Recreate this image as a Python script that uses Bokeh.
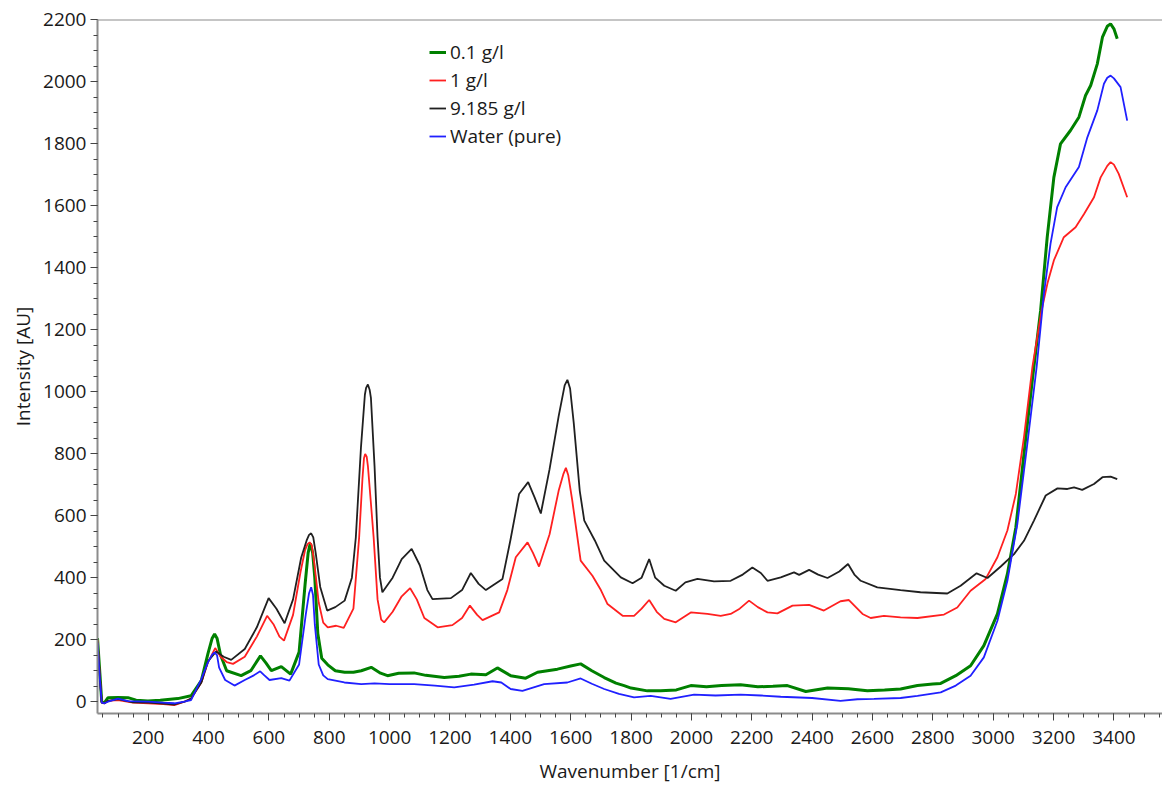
from bokeh.plotting import figure
from bokeh.models import Range1d, SingleIntervalTicker, Span, Legend, LegendItem
from bokeh.embed import file_html
from bokeh.resources import INLINE

# ---- data ----
green_x = [32, 40, 46, 55, 67, 100, 133, 160, 199, 240, 298, 342, 376, 398, 412, 420, 428, 440, 460, 508, 540, 572,
           590, 608, 641, 672, 700, 720, 730, 737, 745, 752, 762, 775, 795, 820, 851, 880, 906, 939, 970, 993, 1030,
           1081, 1120, 1181, 1230, 1269, 1319, 1357, 1401, 1451, 1490, 1556, 1600, 1633, 1670, 1711, 1750, 1777,
           1800, 1854, 1898, 1950, 1998, 2050, 2100, 2163, 2220, 2270, 2318, 2379, 2451, 2520, 2583, 2640, 2693,
           2749, 2800, 2826, 2876, 2925, 2969, 3014, 3047, 3075, 3102, 3130, 3157, 3179, 3201, 3223, 3256, 3284,
           3306, 3323, 3345, 3362, 3378, 3389, 3400, 3411]
green_y = [205, 90, 0, -3, 13, 14, 13, 5, 2, 5, 10, 19, 68, 155, 205, 218, 205, 150, 100, 84, 100, 148,
           125, 100, 113, 89, 160, 380, 480, 511, 480, 400, 220, 140, 119, 100, 95, 95, 100, 111, 92, 84, 92,
           93, 85, 78, 82, 89, 87, 109, 84, 76, 95, 105, 115, 122, 100, 78, 60, 52,
           44, 35, 35, 38, 52, 48, 52, 55, 48, 50, 52, 33, 44, 42, 35, 38, 41,
           52, 57, 59, 84, 116, 181, 283, 412, 562, 799, 1040, 1261, 1498, 1691, 1799, 1842, 1885,
           1955, 1987, 2057, 2143, 2178, 2186, 2170, 2138]

red_x = [32, 40, 46, 55, 67, 100, 150, 200, 250, 287, 320, 342, 376, 398, 422, 440, 460, 481, 520, 560, 594, 615,
         635, 650, 680, 705, 720, 728, 735, 742, 750, 765, 780, 795, 823, 848, 880, 899, 910, 915, 919, 924, 928,
         938, 947, 960, 972, 982, 1010, 1040, 1068, 1090, 1115, 1159, 1208, 1240, 1266, 1290, 1308, 1363, 1390,
         1418, 1457, 1475, 1495, 1530, 1560, 1576, 1584, 1592, 1605, 1633, 1672, 1700, 1722, 1772, 1810, 1835,
         1860, 1885, 1910, 1948, 1998, 2053, 2097, 2130, 2160, 2191, 2220, 2252, 2285, 2335, 2390, 2439, 2494,
         2522, 2567, 2594, 2638, 2693, 2749, 2837, 2881, 2925, 2975, 3014, 3047, 3075, 3102, 3130, 3160, 3180,
         3201, 3234, 3273, 3301, 3334, 3356, 3378, 3389, 3400, 3416, 3444]
red_y = [200, 80, -3, -5, 3, 5, -3, -5, -8, -11, 0, 10, 62, 127, 173, 145, 128, 122, 145, 210, 277, 250,
         210, 197, 280, 420, 490, 508, 514, 505, 450, 320, 255, 240, 245, 238, 300, 530, 720, 785, 799, 790, 760,
         640, 530, 330, 265, 256, 290, 340, 366, 330, 270, 240, 247, 270, 310, 280, 263, 288, 360,
         466, 514, 480, 436, 540, 680, 735, 754, 730, 650, 455, 406, 360, 315, 277, 277, 300,
         328, 290, 267, 256, 288, 283, 277, 283, 300, 326, 305, 288, 285, 310, 312, 294, 324,
         328, 283, 270, 277, 272, 270, 281, 304, 358, 396, 466, 552, 670, 853, 1080, 1260, 1350,
         1423, 1498, 1530, 1573, 1627, 1691, 1728, 1740, 1732, 1702, 1627]

black_x = [32, 40, 46, 55, 67, 100, 150, 200, 250, 287, 320, 342, 376, 398, 425, 450, 475, 520, 560, 599, 625, 652,
           680, 707, 725, 733, 740, 747, 755, 770, 793, 820, 851, 875, 888, 905, 918, 922, 928, 934, 938, 950, 960,
           968, 976, 1010, 1040, 1073, 1100, 1125, 1142, 1203, 1240, 1269, 1295, 1319, 1374, 1400, 1429, 1459,
           1480, 1501, 1530, 1560, 1580, 1589, 1598, 1610, 1630, 1645, 1680, 1711, 1766, 1805, 1835, 1860, 1880,
           1910, 1948, 1980, 2020, 2075, 2130, 2170, 2202, 2230, 2252, 2296, 2340, 2357, 2390, 2420, 2451, 2490,
           2519, 2540, 2561, 2616, 2693, 2759, 2848, 2892, 2945, 2981, 3025, 3069, 3102, 3135, 3174, 3213, 3246,
           3268, 3295, 3334, 3362, 3389, 3411]
black_y = [195, 80, -3, -5, 3, 8, -2, -3, -6, -9, 0, 10, 62, 130, 162, 145, 135, 170, 240, 334, 300, 253,
           330, 465, 520, 538, 543, 530, 480, 370, 294, 305, 326, 400, 530, 820, 990, 1012, 1023, 1005, 980, 760,
           530, 400, 353, 400, 460, 493, 440, 360, 331, 334, 360, 415, 380, 360, 396, 520, 670, 708,
           660, 607, 750, 920, 1020, 1038, 1010, 900, 680, 584, 520, 455, 401, 382, 400, 460, 400,
           374, 358, 385, 396, 388, 390, 410, 433, 415, 390, 401, 417, 409, 425, 410, 399, 420,
           444, 410, 390, 369, 360, 353, 349, 374, 414, 399, 436, 476, 519, 584, 665, 688, 686,
           691, 683, 702, 724, 726, 718]

blue_x = [32, 40, 46, 55, 67, 100, 133, 200, 250, 287, 320, 342, 376, 398, 412, 420, 428, 435, 455, 486, 520, 550,
          571, 585, 602, 641, 668, 700, 722, 733, 740, 746, 752, 765, 780, 795, 850, 906, 950, 1000, 1081, 1150,
          1214, 1280, 1341, 1370, 1401, 1440, 1512, 1589, 1633, 1670, 1711, 1760, 1810, 1865, 1931, 2009, 2080,
          2163, 2230, 2296, 2400, 2494, 2550, 2605, 2693, 2749, 2826, 2876, 2925, 2969, 3014, 3047, 3080, 3113,
          3144, 3168, 3190, 3212, 3240, 3284, 3312, 3345, 3367, 3378, 3389, 3400, 3422, 3444]
blue_y = [190, 70, -3, -5, 0, 10, 2, 0, -3, -5, 0, 5, 73, 127, 152, 159, 150, 110, 70, 52, 70, 85,
          98, 85, 70, 76, 68, 120, 280, 350, 369, 345, 250, 120, 85, 73, 62, 57, 59, 57, 57, 52,
          46, 55, 66, 62, 41, 35, 57, 62, 75, 58, 41, 25, 14, 19, 9, 23, 20,
          23, 20, 16, 12, 3, 8, 9, 12, 19, 30, 52, 84, 143, 261, 390, 573, 831,
          1080, 1315, 1477, 1595, 1659, 1724, 1820, 1907, 1993, 2012, 2019, 2010, 1982, 1874]

labels = ["0.1 g/l", "1 g/l", "9.185 g/l", "Water (pure)"]
colors = ["#008000", "#ff2020", "#202020", "#2020ff"]

FONT = "Open Sans"

p = figure(width=1162, height=789, output_backend="svg", toolbar_location=None,
           x_range=Range1d(32, 3561), y_range=Range1d(-38, 2200),
           min_border_left=97, min_border_right=0, min_border_top=19, min_border_bottom=76,
           background_fill_color="white", border_fill_color="white")
p.outline_line_color = None
p.xgrid.visible = False
p.ygrid.visible = False

r_g = p.line(green_x, green_y, line_color=colors[0], line_width=3)
r_r = p.line(red_x, red_y, line_color=colors[1], line_width=1.8)
r_k = p.line(black_x, black_y, line_color=colors[2], line_width=1.8)
r_b = p.line(blue_x, blue_y, line_color=colors[3], line_width=1.8)

for ax in (p.xaxis[0], p.yaxis[0]):
    ax.ticker = SingleIntervalTicker(interval=200, num_minor_ticks=4)
    ax.axis_line_color = "#8c8c8c"
    ax.axis_line_width = 2
    ax.major_tick_line_color = "#444444"
    ax.minor_tick_line_color = "#444444"
    ax.major_tick_out = 7
    ax.major_tick_in = 0
    ax.minor_tick_out = 4
    ax.minor_tick_in = 0
    ax.major_label_text_font = FONT
    ax.major_label_text_font_size = "19px"
    ax.major_label_text_color = "#1a1a1a"
    ax.axis_label_text_font = FONT
    ax.axis_label_text_font_size = "19px"
    ax.axis_label_text_font_style = "normal"
    ax.axis_label_text_color = "#1a1a1a"

p.xaxis.axis_label = "Wavenumber [1/cm]"
p.yaxis.axis_label = "Intensity [AU]"
p.xaxis.major_label_standoff = 10
p.xaxis.axis_label_standoff = 11
p.yaxis.major_label_standoff = 4
p.yaxis.axis_label_standoff = 4

p.add_layout(Span(location=2200, dimension="width", line_color="#8c8c8c", line_width=2))

legend = Legend(items=[LegendItem(label=labels[0], renderers=[r_g]),
                       LegendItem(label=labels[1], renderers=[r_r]),
                       LegendItem(label=labels[2], renderers=[r_k]),
                       LegendItem(label=labels[3], renderers=[r_b])],
                location=(332, 564))
legend.border_line_color = None
legend.background_fill_alpha = 0
legend.padding = 0
legend.margin = 0
legend.spacing = 2
legend.glyph_width = 17
legend.glyph_height = 20
legend.label_height = 20
legend.label_standoff = 4
legend.label_text_font = FONT
legend.label_text_font_size = "19px"
legend.label_text_color = "#1a1a1a"
p.add_layout(legend, "center")

open("out.html", "w").write(file_html(p, INLINE))
